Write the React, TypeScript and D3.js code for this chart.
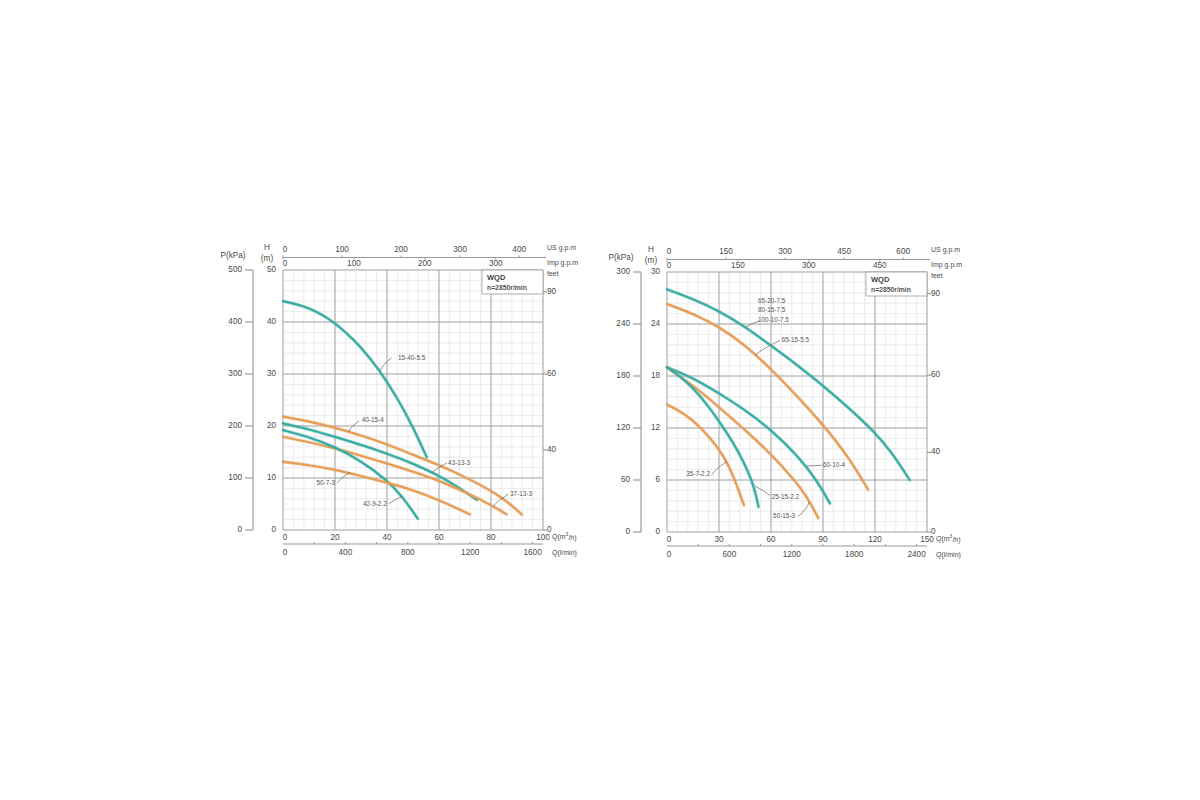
import React from "react";
import * as d3 from "d3";

// ---------- DATA ----------
type Pt = [number, number];
type Curve = { name: string; kind: "teal" | "orange"; pts: Pt[] };
type Note = { lines: string[]; at: Pt; from: Pt; to: Pt; anchor: "start" | "end" };

const leftCurves: Curve[] = [
  { name: "15-40-5.5", kind: "teal", pts: [[0, 44], [10, 42.9], [20, 40.0], [30, 35.3], [37.3, 30.6], [44, 25.4], [50, 19.8], [55.3, 14]] },
  { name: "40-15-4", kind: "orange", pts: [[0, 21.8], [10, 20.9], [20, 19.7], [30, 18.2], [40, 16.5], [48.8, 14.7], [60, 12.5], [70, 10.2], [79.6, 7.7], [86, 5.6], [91.8, 3.0]] },
  { name: "43-13-3", kind: "teal", pts: [[0, 20.5], [10, 19.4], [20, 17.9], [30, 16.4], [40, 14.7], [50, 12.8], [59, 10.7], [67, 8.4], [74.5, 5.8]] },
  { name: "37-13-3", kind: "orange", pts: [[0, 17.9], [10, 16.9], [20, 15.7], [30, 14.3], [40, 12.8], [52.7, 10.8], [60, 9.5], [70, 7.3], [80.9, 4.6], [86, 3.0]] },
  { name: "42-9-2.2", kind: "teal", pts: [[0, 19.2], [10, 17.9], [20, 16.0], [30, 13.3], [40, 9.6], [46, 6.4], [51.8, 2.2]] },
  { name: "50-7-3", kind: "orange", pts: [[0, 13.1], [10, 12.5], [20, 11.6], [30, 10.4], [40, 9.1], [48.8, 7.9], [60, 5.8], [71.9, 3.0]] },
];

const rightCurves: Curve[] = [
  { name: "65-20-7.5", kind: "teal", pts: [[0, 28.0], [15, 26.9], [30, 25.5], [45, 23.7], [60, 21.5], [75, 19.3], [90, 16.9], [105, 14.3], [120, 11.5], [130, 9.1], [140, 6.0]] },
  { name: "65-15-5.5", kind: "orange", pts: [[0, 26.3], [15, 25.2], [30, 23.7], [45, 21.6], [60, 18.8], [75, 15.7], [90, 12.4], [105, 8.6], [116, 4.9]] },
  { name: "60-10-4", kind: "teal", pts: [[0, 19.0], [10, 18.2], [20, 17.2], [30, 16.0], [45, 14.1], [60, 11.8], [75, 8.9], [86, 6.1], [94, 3.3]] },
  { name: "50-15-3", kind: "orange", pts: [[0, 19.0], [10, 17.6], [20, 16.1], [30, 14.4], [46, 11.6], [60, 9.0], [74, 5.9], [81, 4.0], [87.3, 1.6]] },
  { name: "25-15-2.2", kind: "teal", pts: [[0, 19.0], [8, 17.9], [15, 16.6], [22, 15.0], [30, 12.8], [38, 10.4], [44, 8.2], [50, 5.5], [52.8, 2.9]] },
  { name: "35-7-2.2", kind: "orange", pts: [[0, 14.7], [10, 13.7], [20, 12.0], [30, 9.6], [35, 7.9], [39, 6.1], [44.4, 3.1]] },
];

const leftNotes: Note[] = [
  { lines: ["15-40-5.5"], at: [44.2, 33.1], from: [41.8, 33.1], to: [37.3, 30.6], anchor: "start" },
  { lines: ["40-15-4"], at: [30.3, 21.0], from: [29.3, 21.0], to: [25.1, 18.9], anchor: "start" },
  { lines: ["43-13-3"], at: [63.5, 12.9], from: [63.0, 12.9], to: [57.2, 11.0], anchor: "start" },
  { lines: ["37-13-3"], at: [87.3, 6.9], from: [86.7, 6.9], to: [80.9, 4.6], anchor: "start" },
  { lines: ["50-7-3"], at: [20.0, 8.9], from: [20.7, 9.0], to: [25.8, 11.1], anchor: "end" },
  { lines: ["42-9-2.2"], at: [39.9, 5.0], from: [40.5, 5.0], to: [46.0, 6.5], anchor: "end" },
];

const rightNotes: Note[] = [
  { lines: ["65-20-7.5", "80-15-7.5", "100-10-7.5"], at: [52.5, 26.6], from: [53.7, 24.4], to: [45.0, 23.6], anchor: "start" },
  { lines: ["65-15-5.5"], at: [66.2, 22.1], from: [65.2, 22.1], to: [50.8, 20.4], anchor: "start" },
  { lines: ["35-7-2.2"], at: [24.8, 6.6], from: [25.8, 6.6], to: [34.4, 8.1], anchor: "end" },
  { lines: ["25-15-2.2"], at: [60.4, 4.0], from: [59.4, 4.2], to: [50.8, 5.3], anchor: "start" },
  { lines: ["50-15-3"], at: [61.2, 1.8], from: [75.6, 1.8], to: [82.1, 3.5], anchor: "start" },
  { lines: ["60-10-4"], at: [90.0, 7.7], from: [89.3, 7.7], to: [80.6, 7.6], anchor: "start" },
];

const leftQTicks = [0, 20, 40, 60, 80, 100];
const leftHTicks = [0, 10, 20, 30, 40, 50];
const leftPTicks = [0, 100, 200, 300, 400, 500];
const leftUSTicks = [0, 100, 200, 300, 400];
const leftImpTicks = [0, 100, 200, 300];
const leftLminTicks = [0, 400, 800, 1200, 1600];
const leftLminMinor = [200, 400, 600, 800, 1000, 1200, 1400, 1600];

const rightQTicks = [0, 30, 60, 90, 120, 150];
const rightHTicks = [0, 6, 12, 18, 24, 30];
const rightPTicks = [0, 60, 120, 180, 240, 300];
const rightUSTicks = [0, 150, 300, 450, 600];
const rightImpTicks = [0, 150, 300, 450];
const rightLminTicks = [0, 600, 1200, 1800, 2400];
const rightLminMinor = [300, 600, 900, 1200, 1500, 1800, 2100, 2400];

const feetTicks = [0, 40, 60, 90];
// positions (in m of head) at which the printed feet labels sit on each chart
const leftFeetAtH = [0, 15.4, 30, 45.8];
const rightFeetAtH = [0, 9.2, 18.1, 27.5];

const TEAL = "#3aada3";
const ORANGE = "#e59d57";
const TEXT = "#4a4a4a";
const FONT = "'Liberation Sans', Arial, sans-serif";

type ChartCfg = {
  left: number; right: number; top: number; bottom: number;
  qMax: number; hMax: number; pMax: number;
  qTicks: number[]; hTicks: number[]; pTicks: number[];
  usTicks: number[]; impTicks: number[]; lminTicks: number[]; lminMinor: number[];
  feetAtH: number[];
  curves: Curve[]; notes: Note[];
  pAxisX: number;
};

function Chart({ c }: { c: ChartCfg }) {
  const x = d3.scaleLinear().domain([0, c.qMax]).range([c.left, c.right]);
  const y = d3.scaleLinear().domain([0, c.hMax]).range([c.bottom, c.top]);
  const yP = d3.scaleLinear().domain([0, c.pMax]).range([c.bottom, c.top]);
  const xUS = d3.scaleLinear().domain([0, c.qMax * 4.4029]).range([c.left, c.right]);
  const xImp = d3.scaleLinear().domain([0, c.qMax * 3.6662]).range([c.left, c.right]);
  const xL = d3.scaleLinear().domain([0, (c.qMax * 1000) / 60]).range([c.left, c.right]);
  const feetToH = d3.scaleLinear().domain(feetTicks).range(c.feetAtH);

  const qStepMinor = (c.qTicks[1] - c.qTicks[0]) / 5;
  const hStepMinor = (c.hTicks[1] - c.hTicks[0]) / 5;
  const qMinor = d3.range(0, c.qMax + 1e-6, qStepMinor);
  const hMinor = d3.range(0, c.hMax + 1e-6, hStepMinor);

  const line = d3
    .line<Pt>()
    .x((d) => x(d[0]))
    .y((d) => y(d[1]))
    .curve(d3.curveBasis);

  const topLineY = c.top - 12.5;
  const lminLineY = c.bottom + 14;
  const fs = 8.2;

  return (
    <g fontFamily={FONT}>
      {/* minor grid */}
      {qMinor.map((q, i) => (
        <line key={"qm" + i} x1={x(q)} x2={x(q)} y1={c.top} y2={c.bottom} stroke="#e3e3e3" strokeWidth={0.7} />
      ))}
      {hMinor.map((h, i) => (
        <line key={"hm" + i} x1={c.left} x2={c.right} y1={y(h)} y2={y(h)} stroke="#e3e3e3" strokeWidth={0.7} />
      ))}
      {/* major grid */}
      {c.qTicks.map((q) => (
        <line key={"qM" + q} x1={x(q)} x2={x(q)} y1={c.top} y2={c.bottom} stroke="#a8a8a8" strokeWidth={1} />
      ))}
      {c.hTicks.map((h) => (
        <line key={"hM" + h} x1={c.left} x2={c.right} y1={y(h)} y2={y(h)} stroke="#a8a8a8" strokeWidth={1} />
      ))}

      {/* curves */}
      {c.curves.map((cv) => (
        <g key={cv.name}>
          <path d={line(cv.pts) || ""} fill="none" stroke={cv.kind === "teal" ? TEAL : ORANGE} strokeWidth={3.6} strokeOpacity={0.3} strokeLinecap="round" />
          <path d={line(cv.pts) || ""} fill="none" stroke={cv.kind === "teal" ? TEAL : ORANGE} strokeWidth={2.2} strokeLinecap="round" />
        </g>
      ))}

      {/* annotations */}
      {c.notes.map((n, i) => {
        const fx = x(n.from[0]), fy = y(n.from[1]);
        const tx = x(n.to[0]), ty = y(n.to[1]);
        const mx = (fx + tx) / 2, my = (fy + ty) / 2;
        const cx = mx + (fy - ty) * 0.25 * (n.anchor === "start" ? 1 : -1);
        const cy = my;
        return (
          <g key={"n" + i}>
            <path d={`M${fx},${fy} Q${cx},${cy} ${tx},${ty}`} fill="none" stroke="#666" strokeWidth={0.7} />
            {n.lines.map((t, j) => (
              <text key={j} x={x(n.at[0])} y={y(n.at[1]) + j * 9.2} fontSize={6.4} textAnchor={n.anchor} dominantBaseline="middle" fill="#555">
                {t}
              </text>
            ))}
          </g>
        );
      })}

      {/* WQD box */}
      <rect x={c.right - 61} y={c.top} width={61} height={24} fill="#fff" stroke="#999" strokeWidth={0.8} />
      <text x={c.right - 56} y={c.top + 8.5} fontSize={7.5} fontWeight="bold" fill="#444" dominantBaseline="middle">WQD</text>
      <text x={c.right - 56} y={c.top + 18} fontSize={6.8} fontWeight="bold" fill="#555" dominantBaseline="middle">n=2850r/min</text>

      {/* H axis labels */}
      {c.hTicks.map((h) => (
        <text key={"hl" + h} x={c.left - 7} y={y(h)} fontSize={fs} fill={TEXT} textAnchor="end" dominantBaseline="middle">{h}</text>
      ))}
      <text x={c.left - 16} y={c.top - 22} fontSize={fs} fill={TEXT} textAnchor="middle" dominantBaseline="middle">H</text>
      <text x={c.left - 16} y={c.top - 11} fontSize={fs} fill={TEXT} textAnchor="middle" dominantBaseline="middle">(m)</text>

      {/* P axis */}
      <line x1={c.pAxisX} x2={c.pAxisX} y1={c.top} y2={c.bottom} stroke="#888" strokeWidth={1} />
      {c.pTicks.map((p) => (
        <g key={"p" + p}>
          <line x1={c.pAxisX - 8} x2={c.pAxisX} y1={yP(p)} y2={yP(p)} stroke="#888" strokeWidth={1} />
          <text x={c.pAxisX - 11} y={yP(p)} fontSize={fs} fill={TEXT} textAnchor="end" dominantBaseline="middle">{p}</text>
        </g>
      ))}
      <text x={c.pAxisX - 20} y={c.top - 14} fontSize={fs} fill={TEXT} textAnchor="middle" dominantBaseline="middle">P(kPa)</text>

      {/* feet axis on the right */}
      {feetTicks.map((f) => (
        <g key={"f" + f}>
          <line x1={c.right} x2={c.right + 4} y1={y(feetToH(f))} y2={y(feetToH(f))} stroke="#888" strokeWidth={1} />
          <text x={c.right + 4} y={y(feetToH(f))} fontSize={fs} fill={TEXT} dominantBaseline="middle">{f}</text>
        </g>
      ))}

      {/* top axes */}
      <line x1={c.left} x2={c.right + 3} y1={topLineY} y2={topLineY} stroke="#999" strokeWidth={1} />
      {c.usTicks.map((v) => (
        <g key={"us" + v}>
          <line x1={xUS(v)} x2={xUS(v)} y1={topLineY - 2} y2={topLineY} stroke="#999" />
          <text x={xUS(v) + (v === 0 ? 2 : 0)} y={topLineY - 8} fontSize={fs} fill={TEXT} textAnchor="middle" dominantBaseline="middle">{v}</text>
        </g>
      ))}
      {c.impTicks.map((v) => (
        <g key={"imp" + v}>
          <line x1={xImp(v)} x2={xImp(v)} y1={topLineY} y2={topLineY + 2} stroke="#999" />
          <text x={xImp(v) + (v === 0 ? 2 : 0)} y={topLineY + 6.5} fontSize={fs} fill={TEXT} textAnchor="middle" dominantBaseline="middle">{v}</text>
        </g>
      ))}
      <text x={c.right + 4} y={topLineY - 9} fontSize={7} fill={TEXT} dominantBaseline="middle">US g.p.m</text>
      <text x={c.right + 4} y={topLineY + 6} fontSize={7} fill={TEXT} dominantBaseline="middle">Imp g.p.m</text>
      <text x={c.right + 4} y={topLineY + 17} fontSize={7} fill={TEXT} dominantBaseline="middle">feet</text>

      {/* bottom axes */}
      {c.qTicks.map((q) => (
        <text key={"ql" + q} x={x(q) + (q === 0 ? 2 : 0)} y={c.bottom + 7.5} fontSize={fs} fill={TEXT} textAnchor="middle" dominantBaseline="middle">{q}</text>
      ))}
      <text x={c.right + 9} y={c.bottom + 7.5} fontSize={7} fill={TEXT} dominantBaseline="middle">
        Q(m<tspan fontSize={5} dy={-3}>3</tspan><tspan dy={3}>/h)</tspan>
      </text>
      <line x1={c.left} x2={c.right} y1={lminLineY} y2={lminLineY} stroke="#999" strokeWidth={1} />
      {c.lminMinor.map((v) => (
        <line key={"lm" + v} x1={xL(v)} x2={xL(v)} y1={lminLineY - 2} y2={lminLineY} stroke="#999" />
      ))}
      {c.lminTicks.map((v) => (
        <text key={"ll" + v} x={xL(v) + (v === 0 ? 2 : 0)} y={lminLineY + 9} fontSize={fs} fill={TEXT} textAnchor="middle" dominantBaseline="middle">{v}</text>
      ))}
      <text x={c.right + 9} y={lminLineY + 9} fontSize={7} fill={TEXT} dominantBaseline="middle">Q(l/min)</text>
    </g>
  );
}

const leftCfg: ChartCfg = {
  left: 283, right: 543, top: 270, bottom: 530,
  qMax: 100, hMax: 50, pMax: 500,
  qTicks: leftQTicks, hTicks: leftHTicks, pTicks: leftPTicks,
  usTicks: leftUSTicks, impTicks: leftImpTicks, lminTicks: leftLminTicks, lminMinor: leftLminMinor,
  feetAtH: leftFeetAtH, curves: leftCurves, notes: leftNotes, pAxisX: 253,
};

const rightCfg: ChartCfg = {
  left: 667, right: 927, top: 272, bottom: 532,
  qMax: 150, hMax: 30, pMax: 300,
  qTicks: rightQTicks, hTicks: rightHTicks, pTicks: rightPTicks,
  usTicks: rightUSTicks, impTicks: rightImpTicks, lminTicks: rightLminTicks, lminMinor: rightLminMinor,
  feetAtH: rightFeetAtH, curves: rightCurves, notes: rightNotes, pAxisX: 641,
};

export default function App() {
  return (
    <svg width={1200} height={800} style={{ position: "absolute", left: 0, top: 0, background: "#fff" }}>
      <rect x={0} y={0} width={1200} height={800} fill="#fff" />
      <Chart c={leftCfg} />
      <Chart c={rightCfg} />
    </svg>
  );
}
